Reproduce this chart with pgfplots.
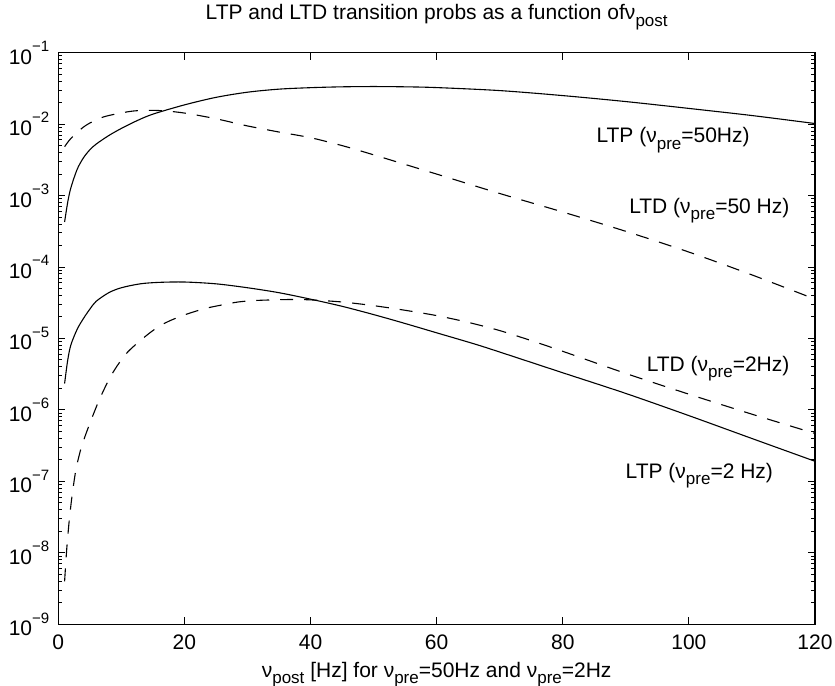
\documentclass[border=0pt]{standalone}
\usepackage{fontspec}
\setmainfont{Liberation Sans}
\usepackage{pgfplots}
\pgfplotsset{compat=1.18}
\usetikzlibrary{calc}
\newcommand{\sub}[1]{\raisebox{-3.3pt}{\fontsize{8.5}{9}\selectfont #1}}
\newcommand{\supr}[1]{\raisebox{6.3pt}{\fontsize{7.5}{8}\selectfont #1}}
\begin{document}
\begin{tikzpicture}
\begin{axis}[
  scale only axis, width=378.4pt, height=285.8pt,
  xmin=0, xmax=120, ymin=1e-9, ymax=1e-1, ymode=log,
  xtick={0,20,40,60,80,100,120},
  ytick={1e-9,1e-8,1e-7,1e-6,1e-5,1e-4,1e-3,1e-2,1e-1},
  yticklabels={10\supr{−9},10\supr{−8},10\supr{−7},10\supr{−6},10\supr{−5},10\supr{−4},10\supr{−3},10\supr{−2},10\supr{−1}},
  minor ytick={2e-9,3e-9,4e-9,5e-9,6e-9,7e-9,8e-9,9e-9,
               2e-8,3e-8,4e-8,5e-8,6e-8,7e-8,8e-8,9e-8,
               2e-7,3e-7,4e-7,5e-7,6e-7,7e-7,8e-7,9e-7,
               2e-6,3e-6,4e-6,5e-6,6e-6,7e-6,8e-6,9e-6,
               2e-5,3e-5,4e-5,5e-5,6e-5,7e-5,8e-5,9e-5,
               2e-4,3e-4,4e-4,5e-4,6e-4,7e-4,8e-4,9e-4,
               2e-3,3e-3,4e-3,5e-3,6e-3,7e-3,8e-3,9e-3,
               2e-2,3e-2,4e-2,5e-2,6e-2,7e-2,8e-2,9e-2},
  /pgf/number format/assume math mode=true,
  tick align=inside, major tick length=3.5pt, minor tick length=2pt,
  tick style={black, line width=0.5pt},
  axis line style={line width=0.6pt},
  every tick label/.append style={font=\fontsize{10.5}{12}\selectfont},
  xticklabel style={yshift=-2pt},
  yticklabel style={xshift=-1pt},
  title={LTP and LTD transition probs as a function ofν\sub{post}},
  title style={font=\fontsize{10.5}{12}\selectfont, yshift=2pt},
  xlabel={ν\sub{post} [Hz] for ν\sub{pre}=50Hz and ν\sub{pre}=2Hz},
  xlabel style={font=\fontsize{10.5}{12}\selectfont, yshift=1pt},
  every axis plot/.append style={black, line width=0.55pt},
]
% LTP nu_pre = 50 Hz
\addplot[smooth] coordinates {
(1,4.27e-4) (1.5,8.13e-4) (2,1.29e-3) (3,2.34e-3) (4,3.39e-3) (5,4.37e-3)
(6,5.25e-3) (8,6.92e-3) (10,8.71e-3) (12.5,1.12e-2) (15,1.38e-2) (20,1.86e-2)
(25,2.37e-2) (30,2.80e-2) (35,3.09e-2) (40,3.24e-2) (45,3.33e-2) (50,3.36e-2)
(55,3.33e-2) (60,3.25e-2) (70,2.95e-2) (80,2.51e-2) (90,2.07e-2) (100,1.66e-2)
(110,1.32e-2) (120,1.02e-2)};
% LTD nu_pre = 50 Hz
\addplot[smooth, dash pattern=on 6.5pt off 5.5pt] coordinates {
(1,4.83e-3) (2,6.31e-3) (4,9.12e-3) (6,1.15e-2) (8,1.32e-2) (12,1.53e-2)
(16,1.55e-2) (20,1.43e-2) (25,1.19e-2) (30,9.44e-3) (35,7.76e-3) (40,6.46e-3)
(45,5.01e-3) (50,3.72e-3) (60,2.00e-3) (70,1.07e-3) (80,5.89e-4) (90,3.16e-4)
(100,1.62e-4) (110,7.76e-5) (120,3.55e-5)};
% LTP nu_pre = 2 Hz
\addplot[smooth] coordinates {
(1,2.34e-6) (1.5,5.01e-6) (2,8.13e-6) (3,1.35e-5) (4,1.91e-5) (5,2.57e-5)
(6,3.31e-5) (8,4.37e-5) (10,5.13e-5) (13,5.82e-5) (16,6.10e-5) (20,6.17e-5)
(25,5.82e-5) (30,5.13e-5) (35,4.37e-5) (40,3.55e-5) (45,2.82e-5) (50,2.16e-5)
(55,1.62e-5) (60,1.20e-5) (66,8.38e-6) (70,6.46e-6) (80,3.31e-6) (90,1.70e-6)
(100,8.32e-7) (110,3.98e-7) (120,1.91e-7)};
% LTD nu_pre = 2 Hz
\addplot[smooth, dash pattern=on 6.5pt off 5.5pt] coordinates {
(1,3.98e-9) (1.33,1.10e-8) (1.7,2.63e-8) (2.1,5.50e-8) (2.5,1.00e-7) (2.9,1.62e-7)
(3.7,3.09e-7) (5,6.46e-7) (6.6,1.45e-6) (8.5,3.16e-6) (10.8,6.17e-6) (13.75,1.06e-5)
(16,1.48e-5) (18,1.82e-5) (20.5,2.21e-5) (23.3,2.63e-5) (26,2.95e-5) (28.5,3.24e-5)
(31,3.39e-5) (34,3.47e-5) (37,3.51e-5) (40,3.47e-5) (45,3.24e-5) (50,2.88e-5)
(55,2.48e-5) (60,2.09e-5) (65,1.68e-5) (70,1.29e-5) (75,9.33e-6) (80,6.61e-6)
(90,3.24e-6) (100,1.66e-6) (110,8.71e-7) (120,4.68e-7)};
\node[anchor=base east, font=\fontsize{10.5}{12}\selectfont, inner sep=0pt] at (axis cs:109.7,5.45e-3) {LTP (ν\sub{pre}=50Hz)};
\node[anchor=base east, font=\fontsize{10.5}{12}\selectfont, inner sep=0pt] at (axis cs:116,5.7e-4) {LTD (ν\sub{pre}=50 Hz)};
\node[anchor=base east, font=\fontsize{10.5}{12}\selectfont, inner sep=0pt] at (axis cs:116,3.47e-6) {LTD (ν\sub{pre}=2Hz)};
\node[anchor=base east, font=\fontsize{10.5}{12}\selectfont, inner sep=0pt] at (axis cs:113.4,1.10e-7) {LTP (ν\sub{pre}=2 Hz)};
\end{axis}
\pgfresetboundingbox
\path ($(current axis.south west)+(-29.15pt,-30.85pt)$) rectangle ($(current axis.north east)+(10pt,26.35pt)$);
\end{tikzpicture}
\end{document}
